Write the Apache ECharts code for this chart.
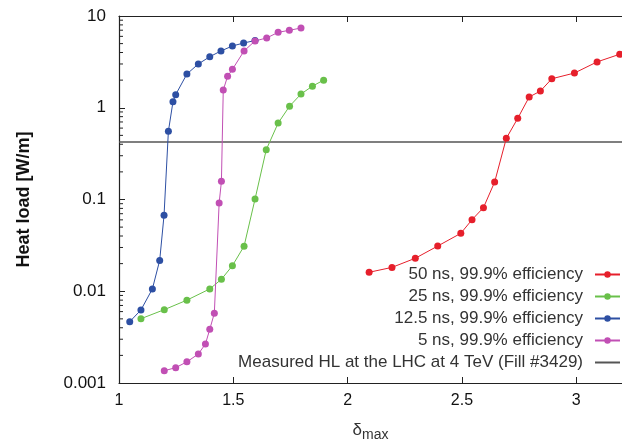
<!DOCTYPE html>
<html>
<head>
<meta charset="utf-8">
<script src="https://cdn.jsdelivr.net/npm/echarts@6/dist/echarts.min.js"></script>
<style>html,body{margin:0;padding:0;background:#fff;}#c{width:622px;height:441px;}</style>
</head>
<body>
<div id="c"></div>
<script>
// ---- data ----
const names = ['50 ns, 99.9% efficiency', '25 ns, 99.9% efficiency', '12.5 ns, 99.9% efficiency', '5 ns, 99.9% efficiency', 'Measured HL at the LHC at 4 TeV (Fill #3429)'];
const ns50_x = [2.094, 2.194, 2.296, 2.394, 2.495, 2.544, 2.594, 2.643, 2.694, 2.744, 2.794, 2.843, 2.893, 2.992, 3.091, 3.190];
const ns50_y = [0.0161, 0.0182, 0.0229, 0.0311, 0.0428, 0.0602, 0.0815, 0.155, 0.464, 0.767, 1.31, 1.52, 2.07, 2.39, 3.16, 3.83];
const ns25_x = [1.096, 1.198, 1.297, 1.397, 1.448, 1.496, 1.547, 1.595, 1.644, 1.696, 1.746, 1.796, 1.846, 1.895];
const ns25_y = [0.00502, 0.0063, 0.0080, 0.0106, 0.0135, 0.019, 0.031, 0.101, 0.349, 0.68, 1.04, 1.41, 1.72, 2.0];
const ns125_x = [1.047, 1.096, 1.146, 1.178, 1.197, 1.216, 1.236, 1.248, 1.297, 1.347, 1.397, 1.446, 1.496, 1.545, 1.595];
const ns125_y = [0.00466, 0.00625, 0.0106, 0.0217, 0.0673, 0.553, 1.16, 1.39, 2.33, 3.0, 3.6, 4.16, 4.71, 5.08, 5.4];
const ns5_x = [1.198, 1.248, 1.297, 1.347, 1.378, 1.397, 1.417, 1.438, 1.448, 1.456, 1.475, 1.496, 1.547, 1.595, 1.646, 1.696, 1.745, 1.796];
const ns5_y = [0.00136, 0.00147, 0.0017, 0.00207, 0.00266, 0.00385, 0.00575, 0.0916, 0.158, 1.56, 2.2, 2.62, 4.16, 5.35, 5.76, 6.64, 6.98, 7.4];
const measuredHL = 0.424;
const xMin = 1, xMax = 3.2, xInterval = 0.5;
const yMin = 0.001, yMax = 10;
const yTickLabels = ['0.001', '0.01', '0.1', '1', '10'];
const colors = ['#e61f2b', '#69c04a', '#2d4fa3', '#c14fb4', '#555555'];

function pairs(xs, ys) { return xs.map((x, i) => [x, ys[i]]); }
const minorVals = [];
for (let d = yMin; d < yMax * 0.999; d *= 10) {
  for (let k = 2; k <= 9; k++) minorVals.push(+(d * k).toPrecision(3));
}

const chart = echarts.init(document.getElementById('c'));
const font = 'Liberation Sans, Arial, sans-serif';
function lineSeries(name, data, color) {
  return {
    name, type: 'line', data, symbol: 'circle', symbolSize: 7,
    lineStyle: { color, width: 1 }, itemStyle: { color },
    emphasis: { disabled: true }, animation: false, z: 3
  };
}
chart.setOption({
  animation: false,
  textStyle: { fontFamily: font },
  grid: { left: 119, right: 0, top: 16, bottom: 58, outerBoundsMode: 'none', containLabel: false },
  legend: {
    data: names.slice(0, 4).map(n => ({ name: n })).concat([{ name: names[4], itemStyle: { opacity: 0 } }]),
    orient: 'vertical', align: 'right', right: 1, top: 266, padding: 0,
    itemWidth: 25, itemHeight: 8, itemGap: 5,
    textStyle: { fontSize: 17, color: '#333', fontFamily: font, padding: [0, 7, 0, 0] },
    selectedMode: false
  },
  xAxis: [{
    type: 'value', min: xMin, max: xMax, interval: xInterval,
    name: 'δ{s|max}', nameLocation: 'middle', nameGap: 35,
    nameTextStyle: { fontSize: 17, color: '#333', rich: { s: { fontSize: 14, color: '#333', padding: [10, 0, 0, 0] } } },
    axisLine: { show: true, lineStyle: { color: '#222', width: 1.2 } },
    axisTick: { show: true, inside: true, length: 6, lineStyle: { color: '#222' } },
    axisLabel: { fontSize: 16, color: '#111', margin: 10, showMaxLabel: false,
      formatter: v => (Math.abs(v - Math.round(v)) < 1e-9 ? String(Math.round(v)) : String(v)) },
    splitLine: { show: false }
  }, {
    type: 'value', position: 'top', min: xMin, max: xMax, interval: xInterval,
    axisLine: { show: true, lineStyle: { color: '#222', width: 1.2 } },
    axisTick: { show: true, inside: true, length: 6, lineStyle: { color: '#222' } },
    axisLabel: { show: false }, splitLine: { show: false }
  }],
  yAxis: {
    type: 'log', logBase: 10, min: yMin, max: yMax,
    name: 'Heat load [W/m]', nameLocation: 'middle', nameGap: 86,
    nameTextStyle: { fontSize: 18, fontWeight: 'bold', color: '#111' },
    axisLine: { show: true, lineStyle: { color: '#222', width: 1.2 } },
    axisTick: { show: true, inside: true, length: 6, lineStyle: { color: '#222' } },
    axisLabel: { fontSize: 17, color: '#111', margin: 13,
      formatter: v => { const e = Math.round(Math.log10(v)); return yTickLabels[e + 3]; } },
    splitLine: { show: false }
  },
  series: [
    lineSeries(names[0], pairs(ns50_x, ns50_y), colors[0]),
    lineSeries(names[1], pairs(ns25_x, ns25_y), colors[1]),
    lineSeries(names[2], pairs(ns125_x, ns125_y), colors[2]),
    lineSeries(names[3], pairs(ns5_x, ns5_y), colors[3]),
    {
      name: names[4], type: 'line', data: [[xMin, measuredHL], [xMax, measuredHL]],
      symbol: 'none', lineStyle: { color: colors[4], width: 1.5 }, itemStyle: { color: colors[4] },
      emphasis: { disabled: true }, z: 2
    },
    {
      type: 'custom', name: 'minorTicks', data: minorVals.map(v => [xMin, v]), silent: true, clip: false,
      renderItem: (params, api) => {
        const p = api.coord([xMin, api.value(1)]);
        return { type: 'line', shape: { x1: p[0], y1: p[1], x2: p[0] + 4, y2: p[1] }, style: { stroke: '#222', lineWidth: 1 } };
      }
    }
  ]
});
</script>
</body>
</html>
